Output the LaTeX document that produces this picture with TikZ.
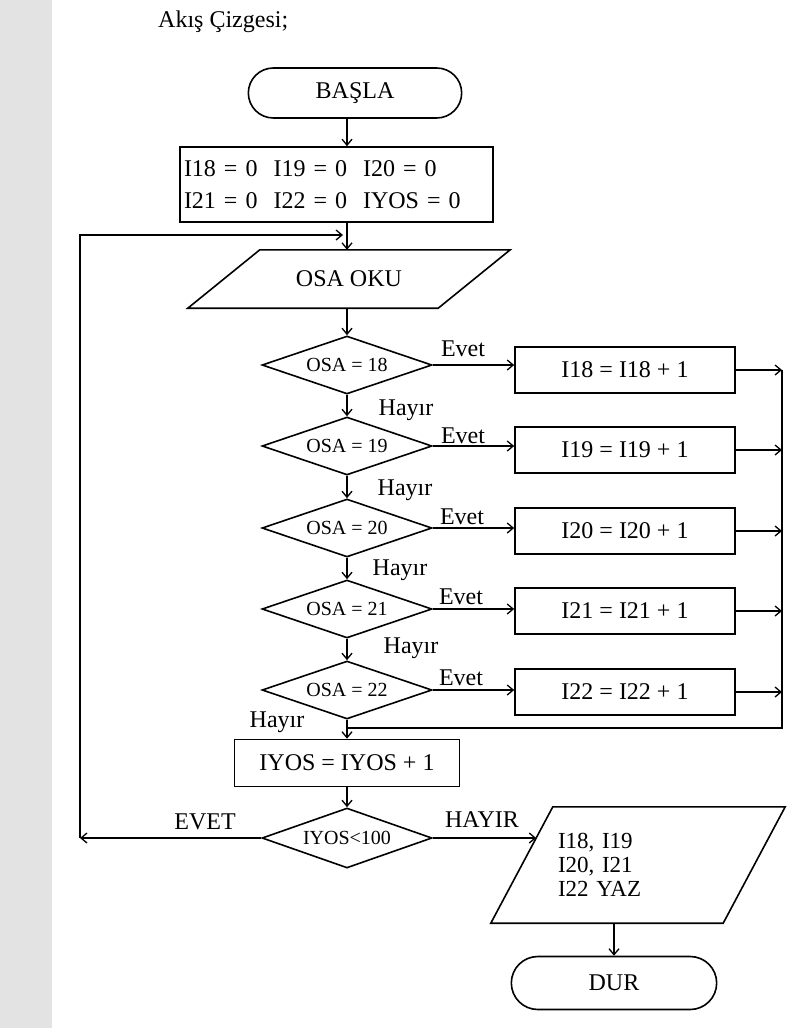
\documentclass[tikz,border=0pt]{standalone}
\usepackage{fontspec}
\setmainfont{Liberation Serif}
\usetikzlibrary{shapes.geometric,shapes.misc,arrows.meta,calc}
\begin{document}
\begin{tikzpicture}[x=1pt,y=-1pt,
  every node/.style={font=\fontsize{24}{28}\selectfont},
  lw/.style={line width=1.6pt},
  arr/.style={lw,-{Straight Barb[length=6pt,width=10pt,line width=1.3pt]}},
  term/.style={rounded rectangle, draw, lw, minimum width=220pt, minimum height=50pt},
  proc/.style={rectangle, draw, lw, minimum width=220pt, minimum height=46pt},
  dec/.style={diamond, draw, lw, aspect=2.93, minimum width=170pt, minimum height=58pt, inner sep=0pt, font=\fontsize{20}{24}\selectfont},
  iobody/.style={rectangle, inner sep=0pt},
  lbl/.style={inner sep=0pt}
]
\fill[white] (0,0) rectangle (788,1028);
\fill[gray!22] (0,0) rectangle (52,1028);
\useasboundingbox (0,0) rectangle (788,1028);

\coordinate (col) at (347,0);
\coordinate (rail) at (782,0);

\node[lbl, anchor=west] (title) at (158,22) {Akış Çizgesi;};
\node[term] (start) at (355,93) {BAŞLA};
\node[draw, lw, minimum width=313pt, minimum height=75pt, text width=305pt, align=left, inner xsep=4pt, font=\fontsize{24}{32}\selectfont] (init) at (336.5,184.5) {I18 = 0\ \ I19 = 0\ \ I20 = 0\\I21 = 0\ \ I22 = 0\ \ IYOS = 0};

% OSA OKU parallelogram
\node[iobody, minimum width=250pt, minimum height=58pt] (read) at (349,279) {OSA OKU};
\draw[lw] ($(read.north west)+(36,0)$) -- ($(read.north east)+(36,0)$) -- ($(read.south east)+(-36,0)$) -- ($(read.south west)+(-36,0)$) -- cycle;

\node[dec] (d1) at (347,365) {OSA = 18};
\node[dec] (d2) at (347,446) {OSA = 19};
\node[dec] (d3) at (347,528) {OSA = 20};
\node[dec] (d4) at (347,609) {OSA = 21};
\node[dec] (d5) at (347,690) {OSA = 22};

\node[proc] (b1) at (625,370) {I18 = I18 + 1};
\node[proc] (b2) at (625,450) {I19 = I19 + 1};
\node[proc] (b3) at (625,531) {I20 = I20 + 1};
\node[proc] (b4) at (625,611) {I21 = I21 + 1};
\node[proc] (b5) at (625,692) {I22 = I22 + 1};

\node[lbl] (e1) at (463,349) {Evet};
\node[lbl] (e2) at (463,436) {Evet};
\node[lbl] (e3) at (462,517) {Evet};
\node[lbl] (e4) at (461,597) {Evet};
\node[lbl] (e5) at (461,678) {Evet};
\node[lbl] (h1) at (406,410) {Hayır};
\node[lbl] (h2) at (405,490) {Hayır};
\node[lbl] (h3) at (400,570) {Hayır};
\node[lbl] (h4) at (411,648) {Hayır};
\node[lbl] (h5) at (277,722) {Hayır};

\node[draw, lw, minimum width=225pt, minimum height=47pt] (iyos) at (347,763) {IYOS = IYOS + 1};
\node[dec, minimum height=60pt] (d6) at (347,838) {IYOS<100};
\node[lbl] (evet) at (205,822) {EVET};
\node[lbl] (hayir) at (482,820) {HAYIR};

% output parallelogram
\node[iobody, minimum width=232pt, minimum height=116pt, text width=160pt, align=left, font=\fontsize{23}{24}\selectfont] (out) at (638,865) {I18, I19\\I20, I21\\I22 YAZ};
\coordinate (otl) at ($(out.north west)+(31,0)$);
\coordinate (obl) at ($(out.south west)+(-31,0)$);
\draw[lw] (otl) -- ($(out.north east)+(31,0)$) -- ($(out.south east)+(-31,0)$) -- (obl) -- cycle;

\node[term, minimum width=212pt, minimum height=53pt] (dur) at (614,983) {DUR};

\coordinate (join) at (347,728);
\coordinate (lc) at (80,838);
\coordinate (lt) at (80,235);
\coordinate (le) at (343,235);
\coordinate (hp) at ($(otl)!0.267!(obl)$);

\draw[arr] (start.south -| col) -- (init.north -| col);
\draw[arr] (init.south -| col) -- (read.north -| col);
\draw[arr] (read.south -| col) -- (d1.north);
\draw[arr] (d1.south) -- (d2.north);
\draw[arr] (d2.south) -- (d3.north);
\draw[arr] (d3.south) -- (d4.north);
\draw[arr] (d4.south) -- (d5.north);
\draw[arr] (d5.south) -- (iyos.north);
\draw[arr] (iyos.south) -- (d6.north);

\foreach \i in {1,...,5}{
  \draw[arr] (d\i.east) -- (d\i.east -| b\i.west);
  \draw[arr] (b\i.east) -- (b\i.east -| rail);
}
\draw[lw] (b1.east -| rail) -- (rail |- join) -- (join);

\draw[arr] (d6.west) -- (lc);
\draw[arr] (lc) -- (lt) -- (le);
\draw[arr] (d6.east) -- (d6.east -| hp);
\draw[arr] (dur.north |- out.south) -- (dur.north);
\end{tikzpicture}
\end{document}
